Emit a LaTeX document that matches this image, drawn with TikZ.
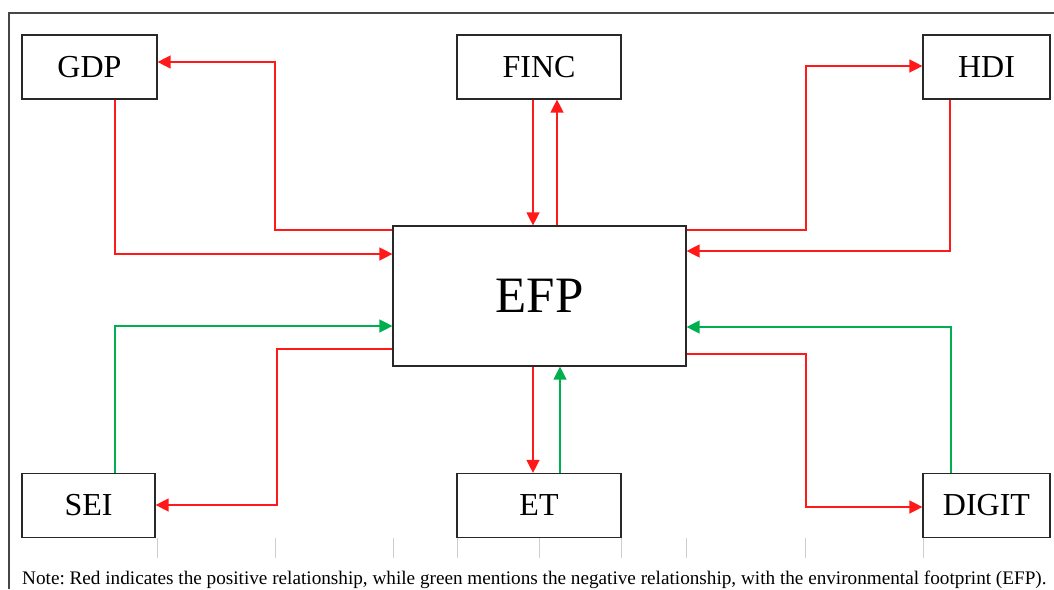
\documentclass[tikz,border=0pt]{standalone}
\usepackage{fontspec}
\setmainfont{Liberation Serif}
\usetikzlibrary{arrows.meta}
\frenchspacing
\definecolor{node_gray}{RGB}{40,40,40}
\definecolor{frame_gray}{RGB}{70,70,70}
\definecolor{tick_gray}{RGB}{205,205,205}
\definecolor{edge_red}{RGB}{255,25,25}
\definecolor{edge_green}{RGB}{0,176,80}

\begin{document}
\begin{tikzpicture}[x=1pt,y=-1pt,>={Triangle[length=13pt,width=13pt]}]
    \tikzstyle{var}=[draw=node_gray, line width=1.2pt, rectangle, inner sep=0pt, minimum height=64pt, text=black, font=\fontsize{32}{32}\selectfont]
    \tikzstyle{mainvar}=[style=var, minimum width=293pt, minimum height=140pt, font=\fontsize{51}{51}\selectfont]
    \tikzstyle{posedge}=[->, edge_red, line width=1.4pt]
    \tikzstyle{negedge}=[->, edge_green, line width=1.4pt]
    \useasboundingbox (0,0) rectangle (1054,589);

    % frame and table rules
    \draw[frame_gray, line width=1.5pt] (9,589) -- (9,13) -- (1054,13);
    \foreach \x in {157,275,393,457,539,621,686,805,923}
      \draw[tick_gray, line width=1pt] (\x,538) -- (\x,558);

    \node[var, minimum width=135pt] (gdp)   at (89.5,67)   {GDP};
    \node[var, minimum width=164pt] (finc)  at (539,67)    {FINC};
    \node[var, minimum width=127pt] (hdi)   at (986.5,67)  {HDI};
    \node[mainvar]                  (efp)   at (539.5,296) {EFP};
    \node[var, minimum width=133pt] (sei)   at (88.5,505.5) {SEI};
    \node[var, minimum width=164pt] (et)    at (539,505.5) {ET};
    \node[var, minimum width=127pt] (digit) at (986.5,505.5) {DIGIT};

    % top row
    \draw[posedge] (efp.west |- 0,230) -| (275,62) -- (gdp.east |- 0,62);
    \draw[posedge] (gdp.south -| 115,0) |- (efp.west |- 0,254);
    \draw[posedge] (finc.south -| 533,0) -- (efp.north -| 533,0);
    \draw[posedge] (efp.north -| 557,0) -- (finc.south -| 557,0);
    \draw[posedge] (efp.east |- 0,230) -| (806,66) -- (hdi.west |- 0,66);
    \draw[posedge] (hdi.south -| 950,0) |- (efp.east |- 0,251);
    % bottom row
    \draw[negedge] (sei.north -| 115,0) |- (efp.west |- 0,326);
    \draw[posedge] (efp.west |- 0,349) -| (277,505) -- (sei.east |- 0,505);
    \draw[posedge] (efp.south -| 533,0) -- (et.north -| 533,0);
    \draw[negedge] (et.north -| 560,0) -- (efp.south -| 560,0);
    \draw[negedge] (digit.north -| 951,0) |- (efp.east |- 0,327);
    \draw[posedge] (efp.east |- 0,354) -| (806,507) -- (digit.west |- 0,507);

    \node[anchor=base west, inner sep=0pt, font=\fontsize{19.2}{19.2}\selectfont] (note) at (22,584)
      {Note: Red indicates the positive relationship, while green mentions the negative relationship, with the environmental footprint (EFP).};
\end{tikzpicture}
\end{document}
